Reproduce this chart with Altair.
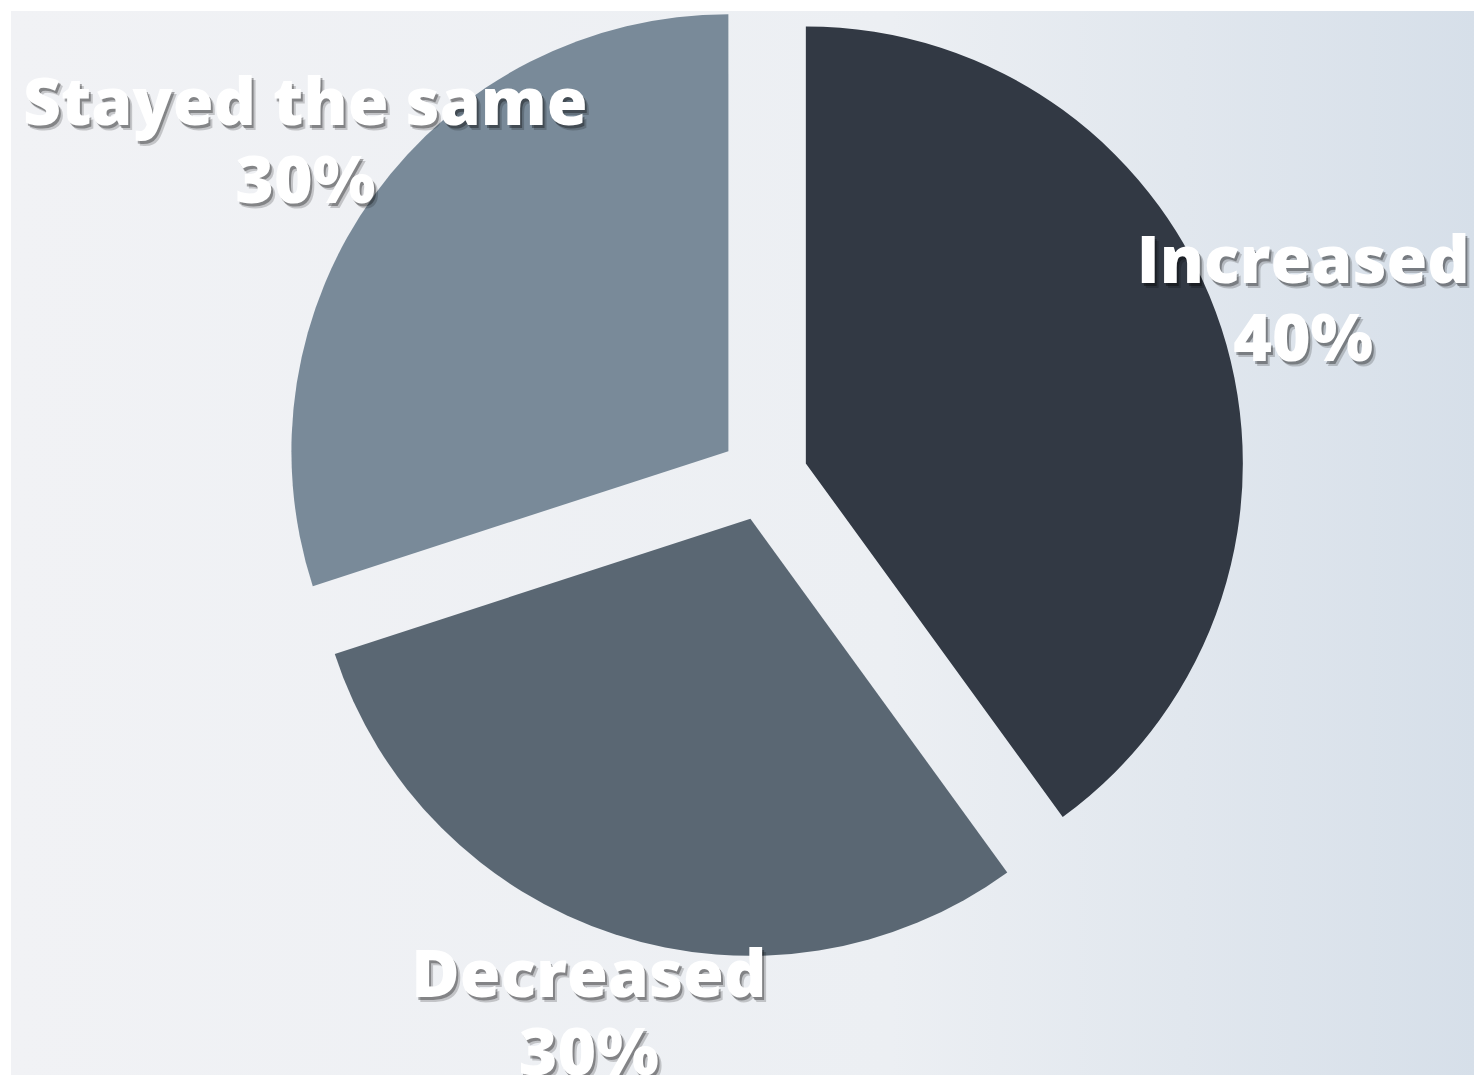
import altair as alt
import pandas as pd

categories = ["Increased", "Decreased", "Stayed the same"]
values = [40, 30, 30]
colors = ["#323944", "#5a6773", "#798a99"]

W, H = 1466, 1067
CX, CY = 753, 466      # pie centre (chart coords)
R = 437                # pie radius
D = 44                 # explode distance
LR = 567               # label distance from centre
LH = 78                # label line height

df = pd.DataFrame({"category": categories, "value": values})

base = alt.Chart(df).transform_window(
    cum="sum(value)", frame=[None, 0]
).transform_joinaggregate(
    total="sum(value)"
).transform_calculate(
    start="(datum.cum - datum.value) / datum.total",
    end="datum.cum / datum.total",
).transform_calculate(
    mid="(datum.start + datum.end) / 2",
).transform_calculate(
    px=f"{CX} + {D} * sin(2 * PI * datum.mid)",
    py=f"{CY} - {D} * cos(2 * PI * datum.mid)",
    lx=f"{CX} + {LR} * sin(2 * PI * datum.mid)",
    ly=f"{CY} - {LR} * cos(2 * PI * datum.mid)",
    label="datum.category + '\\n' + format(datum.value / datum.total, '.0%')",
)

arcs = base.mark_arc(radius=R).encode(
    x=alt.X("px:Q", scale=None, axis=None),
    y=alt.Y("py:Q", scale=None, axis=None),
    theta=alt.Theta("start:Q", scale=alt.Scale(domain=[0, 1], range=[0, 6.283185307179586])),
    theta2="end:Q",
    color=alt.Color("category:N", scale=alt.Scale(domain=categories, range=colors), legend=None),
)

text_style = dict(font="Open Sans", fontWeight=800, fontSize=66, lineBreak="\n",
                  lineHeight=LH, align="center", baseline="middle")


def text_layer(color, opacity, dx, dy):
    return base.mark_text(color=color, opacity=opacity, dx=dx, dy=dy - LH / 2, **text_style).encode(
        x=alt.X("lx:Q", scale=None, axis=None),
        y=alt.Y("ly:Q", scale=None, axis=None),
        text="label:N",
    )


shadow2 = text_layer("#000000", 0.18, 4, 5)
shadow1 = text_layer("#000000", 0.32, 2, 3)
labels = text_layer("#ffffff", 1, 0, 0)

bg = alt.Chart(pd.DataFrame({"a": [0]})).mark_rect(
    color=alt.LinearGradient(
        gradient="linear", x1=0, x2=1, y1=0, y2=0,
        stops=[alt.GradientStop(color="#f1f2f5", offset=0),
               alt.GradientStop(color="#eceff3", offset=0.6),
               alt.GradientStop(color="#d6dfe9", offset=1)],
    )
).encode(x=alt.value(0), x2=alt.value(W), y=alt.value(0), y2=alt.value(H))

grid_step = 46
gx_vals = list(range(27, W, grid_step))
gy_vals = list(range(8, H, grid_step))
grid_axis = dict(labels=False, ticks=False, domain=False, title=None,
                 grid=True, gridColor="#c3cbd4", gridOpacity=0.45, gridWidth=2)
grid = alt.Chart(pd.DataFrame({"gx": [0], "gy": [0]})).mark_point(opacity=0).encode(
    x=alt.X("gx:Q", scale=alt.Scale(domain=[0, W], nice=False, zero=False),
            axis=alt.Axis(values=gx_vals, **grid_axis)),
    y=alt.Y("gy:Q", scale=alt.Scale(domain=[H, 0], nice=False, zero=False),
            axis=alt.Axis(values=gy_vals, **grid_axis)),
)

chart = alt.layer(bg, grid, arcs, shadow2, shadow1, labels).resolve_scale(
    x="independent", y="independent"
).properties(
    width=W, height=H, padding=0,
    autosize=alt.AutoSizeParams(type="fit", contains="padding"),
).configure_view(stroke=None)

chart.save("out.html", embed_options={"renderer": "svg", "actions": False})
